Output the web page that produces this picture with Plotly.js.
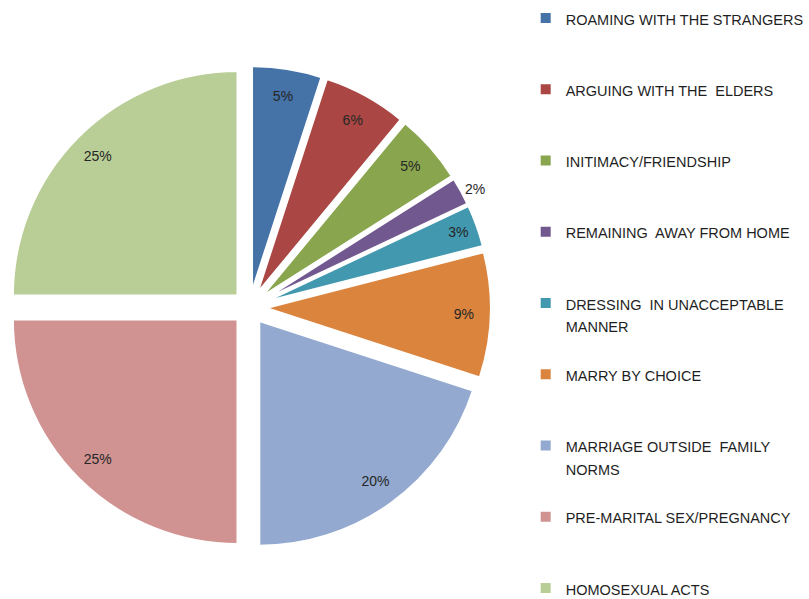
<!DOCTYPE html>
<html>
<head>
<meta charset="utf-8">
<script src="https://cdn.plot.ly/plotly-3.0.1.min.js"></script>
<style>html,body{margin:0;padding:0;background:#fff;}#chart{width:809px;height:599px;}</style>
</head>
<body>
<div id="chart"></div>
<script>
var categories = [
  "ROAMING WITH THE STRANGERS",
  "ARGUING WITH THE  ELDERS",
  "INITIMACY/FRIENDSHIP",
  "REMAINING  AWAY FROM HOME",
  "DRESSING  IN UNACCEPTABLE<br>MANNER",
  "MARRY BY CHOICE",
  "MARRIAGE OUTSIDE  FAMILY<br>NORMS",
  "PRE-MARITAL SEX/PREGNANCY",
  "HOMOSEXUAL ACTS"
];
var values = [5, 6, 5, 2, 3, 9, 20, 25, 25];
var colors = ["#4572A7", "#AA4643", "#89A54E", "#71588F", "#4198AF", "#DB843D", "#93A9CF", "#D19392", "#B9CD96"];
var textPos = ["inside", "inside", "inside", "outside", "inside", "inside", "inside", "inside", "inside"];

// legend labels: styled text padded to 3 lines so entries are spaced like the reference
var legendLabels = categories.map(function (c) {
  var parts = c.split("<br>");
  var lines = parts.map(function (p) { return '<span style="font-size:14.5px">' + p + '</span>'; });
  while (lines.length < 3) lines.push(" ");
  return lines.join("<br>");
});

var pieDomain = { x: [0.0099, 0.6082], y: [0.0826, 0.8907] };
var pullAmount = 0.075;

// full pie: slices, borders and legend
var pieTrace = {
  type: "pie",
  labels: legendLabels,
  values: values,
  sort: false,
  direction: "clockwise",
  rotation: 0,
  pull: pullAmount,
  textinfo: "none",
  marker: { colors: colors, line: { color: "#ffffff", width: 2 } },
  domain: pieDomain,
  hoverinfo: "none"
};

// same pie as a transparent ring, used only to place the percentage labels near the rim
var labelTrace = {
  type: "pie",
  labels: legendLabels,
  values: values,
  sort: false,
  direction: "clockwise",
  rotation: 0,
  pull: pullAmount,
  hole: 0.76,
  showlegend: false,
  textinfo: "percent",
  texttemplate: "%{value}%",
  textposition: textPos,
  insidetextorientation: "horizontal",
  textfont: { family: "Liberation Sans, Arial, sans-serif", size: 14, color: "#262626" },
  marker: { colors: colors.map(function () { return "rgba(0,0,0,0)"; }), line: { width: 0 } },
  domain: pieDomain,
  hoverinfo: "none"
};

var layout = {
  width: 809,
  height: 599,
  margin: { l: 0, r: 0, t: 0, b: 0 },
  paper_bgcolor: "#ffffff",
  showlegend: true,
  legend: {
    x: 0.6514,
    y: 1.0,
    xanchor: "left",
    yanchor: "top",
    valign: "top",
    font: { family: "Liberation Sans, Arial, sans-serif", size: 17.5, color: "#1f1f1f" },
    bgcolor: "rgba(0,0,0,0)"
  }
};

Plotly.newPlot("chart", [pieTrace, labelTrace], layout, { displayModeBar: false, staticPlot: true });
</script>
</body>
</html>
